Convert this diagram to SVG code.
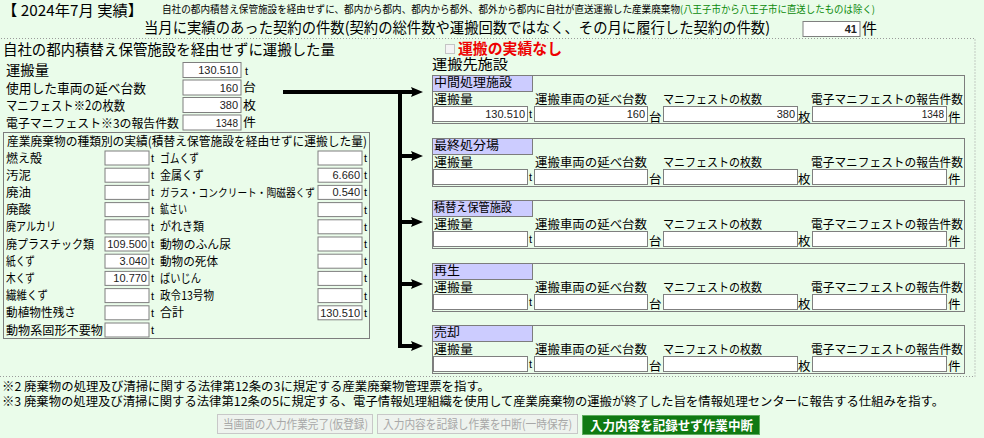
<svg xmlns="http://www.w3.org/2000/svg" width="984" height="438" viewBox="0 0 984 438">
<defs>
<style>
text{font-family:"Noto Sans CJK JP","Noto Sans",sans-serif;fill:#000}
.f15{font-size:15px}
.f14{font-size:14px}
.f13{font-size:13px}
.f12{font-size:12px}
.un{font-size:12.5px}
.sm{font-size:10px}
.in{fill:#fff;stroke:#7f7f7f;stroke-width:1}
.box{fill:none;stroke:#7d7d7d;stroke-width:1}
.tab{fill:#ccccff;stroke:#7d7d7d;stroke-width:1}
.v{font-family:"Liberation Sans",Arial,sans-serif;font-size:11px;fill:#222;text-anchor:end}
.vs{font-family:"Liberation Sans",Arial,sans-serif;font-size:10px;fill:#222;text-anchor:end}
.u{font-family:"Liberation Sans",Arial,sans-serif;font-size:11px}
.dot{fill:none;stroke:#9a9a9a;stroke-width:1;stroke-dasharray:1 2}
.ln{stroke:#000;stroke-width:4;fill:none}
.arr{stroke:#000;stroke-width:4;fill:none;marker-end:url(#ah)}
.btn{fill:#eef3ee;stroke:#c8c8c8}
.btnt{font-size:12px;fill:#a8a8a8}
</style>
<marker id="ah" viewBox="0 0 12 10" refX="2" refY="5" markerWidth="12" markerHeight="10" markerUnits="userSpaceOnUse" orient="auto">
<path d="M0,0 L12,5 L0,10 L2,5 z" fill="#000"/>
</marker>
</defs>
<rect x="0" y="0" width="984" height="438" fill="#eafcea"/>

<g id="header">
<text class="f15" x="2" y="16" textLength="141" lengthAdjust="spacingAndGlyphs">【 2024年7月 実績】</text>
<text class="sm" x="162" y="12.5" textLength="518" lengthAdjust="spacingAndGlyphs">自社の都内積替え保管施設を経由せずに、都内から都内、都内から都外、都外から都内に自社が直送運搬した産業廃棄物</text>
<text class="sm" x="680" y="12.5" textLength="195" lengthAdjust="spacingAndGlyphs" style="fill:#0a8a0a">(八王子市から八王子市に直送したものは除く)</text>
<text class="f15" x="144" y="32.5" textLength="626" lengthAdjust="spacingAndGlyphs">当月に実績のあった契約の件数(契約の総件数や運搬回数ではなく、その月に履行した契約の件数)</text>
<rect class="in" x="803" y="21.5" width="57" height="15"/>
<text class="v" x="857" y="33" style="font-weight:bold">41</text>
<text class="f15" x="862" y="34">件</text>
</g>

<rect class="dot" x="-2" y="38.5" width="977" height="338"/>

<g id="source">
<text class="f15" x="3" y="55" textLength="332" lengthAdjust="spacingAndGlyphs">自社の都内積替え保管施設を経由せずに運搬した量</text>
<text class="f14" x="6" y="75" textLength="43" lengthAdjust="spacingAndGlyphs">運搬量</text>
<rect class="in" x="183" y="62.5" width="58" height="15"/>
<text class="v" x="238" y="74">130.510</text>
<text class="u" x="245" y="75">t</text>
<text class="f13" x="6" y="92.5" textLength="140" lengthAdjust="spacingAndGlyphs">使用した車両の延べ台数</text>
<rect class="in" x="183" y="80" width="58" height="15"/>
<text class="v" x="238" y="91.5">160</text>
<text class="f12" x="243" y="92" textLength="13" lengthAdjust="spacingAndGlyphs">台</text>
<text class="f13" x="6" y="110" textLength="119" lengthAdjust="spacingAndGlyphs">マニフェスト※2の枚数</text>
<rect class="in" x="183" y="97.5" width="58" height="15"/>
<text class="v" x="238" y="109">380</text>
<text class="f12" x="243" y="109.5" textLength="13" lengthAdjust="spacingAndGlyphs">枚</text>
<text class="f12" x="6" y="127.5" textLength="173" lengthAdjust="spacingAndGlyphs">電子マニフェスト※3の報告件数</text>
<rect class="in" x="183" y="115" width="58" height="15"/>
<text class="vs" x="238" y="126.5">1348</text>
<text class="f12" x="243" y="127" textLength="13" lengthAdjust="spacingAndGlyphs">件</text>
</g>

<g id="breakdown">
<rect class="box" x="3.5" y="132.5" width="366" height="206"/>
<text x="7" y="145.5" textLength="360" lengthAdjust="spacingAndGlyphs" style="font-size:12.5px">産業廃棄物の種類別の実績(積替え保管施設を経由せずに運搬した量)</text>
<!-- left column -->
<text class="f12" x="6" y="162.5" textLength="36" lengthAdjust="spacingAndGlyphs">燃え殻</text>
<rect class="in" x="105" y="151" width="44" height="14"/><text class="u" x="151" y="162">t</text>
<text class="f12" x="6" y="179.7" textLength="25" lengthAdjust="spacingAndGlyphs">汚泥</text>
<rect class="in" x="105" y="168.2" width="44" height="14"/><text class="u" x="151" y="179.2">t</text>
<text class="f12" x="6" y="196.9" textLength="25" lengthAdjust="spacingAndGlyphs">廃油</text>
<rect class="in" x="105" y="185.4" width="44" height="14"/><text class="u" x="151" y="196.4">t</text>
<text class="f12" x="6" y="214.1" textLength="25" lengthAdjust="spacingAndGlyphs">廃酸</text>
<rect class="in" x="105" y="202.6" width="44" height="14"/><text class="u" x="151" y="213.6">t</text>
<text class="f12" x="6" y="231.3" textLength="50" lengthAdjust="spacingAndGlyphs">廃アルカリ</text>
<rect class="in" x="105" y="219.8" width="44" height="14"/><text class="u" x="151" y="230.8">t</text>
<text class="f12" x="6" y="248.5" textLength="88" lengthAdjust="spacingAndGlyphs">廃プラスチック類</text>
<rect class="in" x="105" y="237" width="44" height="14"/><text class="v" x="147" y="248">109.500</text><text class="u" x="151" y="248">t</text>
<text class="f12" x="6" y="265.7" textLength="29" lengthAdjust="spacingAndGlyphs">紙くず</text>
<rect class="in" x="105" y="254.2" width="44" height="14"/><text class="v" x="147" y="265.2">3.040</text><text class="u" x="151" y="265.2">t</text>
<text class="f12" x="6" y="282.9" textLength="29" lengthAdjust="spacingAndGlyphs">木くず</text>
<rect class="in" x="105" y="271.4" width="44" height="14"/><text class="v" x="147" y="282.4">10.770</text><text class="u" x="151" y="282.4">t</text>
<text class="f12" x="6" y="300.1" textLength="42" lengthAdjust="spacingAndGlyphs">繊維くず</text>
<rect class="in" x="105" y="288.6" width="44" height="14"/><text class="u" x="151" y="299.6">t</text>
<text class="f12" x="6" y="317.3" textLength="70" lengthAdjust="spacingAndGlyphs">動植物性残さ</text>
<rect class="in" x="105" y="305.8" width="44" height="14"/><text class="u" x="151" y="316.8">t</text>
<text class="f12" x="6" y="334.5" textLength="97" lengthAdjust="spacingAndGlyphs">動物系固形不要物</text>
<rect class="in" x="105" y="323" width="44" height="14"/><text class="u" x="151" y="334">t</text>
<!-- right column -->
<text class="f12" x="160" y="162.5" textLength="39" lengthAdjust="spacingAndGlyphs">ゴムくず</text>
<rect class="in" x="318" y="151" width="44" height="14"/><text class="u" x="364" y="162">t</text>
<text class="f12" x="160" y="179.7" textLength="44" lengthAdjust="spacingAndGlyphs">金属くず</text>
<rect class="in" x="318" y="168.2" width="44" height="14"/><text class="v" x="360" y="179.2">6.660</text><text class="u" x="364" y="179.2">t</text>
<text x="160" y="196.9" textLength="155" lengthAdjust="spacingAndGlyphs" style="font-size:10.8px">ガラス・コンクリート・陶磁器くず</text>
<rect class="in" x="318" y="185.4" width="44" height="14"/><text class="v" x="360" y="196.4">0.540</text><text class="u" x="364" y="196.4">t</text>
<text class="f12" x="160" y="214.1" textLength="27" lengthAdjust="spacingAndGlyphs">鉱さい</text>
<rect class="in" x="318" y="202.6" width="44" height="14"/><text class="u" x="364" y="213.6">t</text>
<text class="f12" x="160" y="231.3" textLength="44" lengthAdjust="spacingAndGlyphs">がれき類</text>
<rect class="in" x="318" y="219.8" width="44" height="14"/><text class="u" x="364" y="230.8">t</text>
<text class="f12" x="160" y="248.5" textLength="71" lengthAdjust="spacingAndGlyphs">動物のふん尿</text>
<rect class="in" x="318" y="237" width="44" height="14"/><text class="u" x="364" y="248">t</text>
<text class="f12" x="160" y="265.7" textLength="58" lengthAdjust="spacingAndGlyphs">動物の死体</text>
<rect class="in" x="318" y="254.2" width="44" height="14"/><text class="u" x="364" y="265.2">t</text>
<text class="f12" x="160" y="282.9" textLength="41" lengthAdjust="spacingAndGlyphs">ばいじん</text>
<rect class="in" x="318" y="271.4" width="44" height="14"/><text class="u" x="364" y="282.4">t</text>
<text class="f12" x="160" y="300.1" textLength="54" lengthAdjust="spacingAndGlyphs">政令13号物</text>
<rect class="in" x="318" y="288.6" width="44" height="14"/><text class="u" x="364" y="299.6">t</text>
<text class="f12" x="160" y="317.3">合計</text>
<rect class="in" x="318" y="305.8" width="44" height="14"/><text class="v" x="360" y="316.8">130.510</text><text class="u" x="364" y="316.8">t</text>
</g>

<g id="no-record">
<rect x="445.5" y="44.5" width="9" height="9" fill="#f4f4f4" stroke="#c4c4c4"/>
<text class="f15" x="458" y="54" textLength="104" lengthAdjust="spacingAndGlyphs" style="fill:#ee0000;font-weight:bold">運搬の実績なし</text>
<text class="f14" x="432" y="69" textLength="76" lengthAdjust="spacingAndGlyphs">運搬先施設</text>
</g>

<g id="connectors">
<line class="arr" x1="283" y1="92" x2="413" y2="92"/>
<line class="ln" x1="400" y1="90" x2="400" y2="348"/>
<line class="arr" x1="398" y1="156" x2="413" y2="156"/>
<line class="arr" x1="398" y1="222" x2="413" y2="222"/>
<line class="arr" x1="398" y1="284" x2="413" y2="284"/>
<line class="arr" x1="398" y1="346" x2="413" y2="346"/>
</g>

<g id="dest-intermediate" transform="translate(0,75)">
<rect class="box" x="432.5" y="0.5" width="532" height="48"/>
<rect class="tab" x="432.5" y="0.5" width="100" height="16"/>
<text class="f12" x="434" y="12" textLength="78" lengthAdjust="spacingAndGlyphs">中間処理施設</text>
<text class="f12" x="434" y="29" textLength="39" lengthAdjust="spacingAndGlyphs">運搬量</text>
<text class="f12" x="535" y="29" textLength="112" lengthAdjust="spacingAndGlyphs">運搬車両の延べ台数</text>
<text class="f12" x="663" y="29" textLength="99" lengthAdjust="spacingAndGlyphs">マニフェストの枚数</text>
<text class="f12" x="811" y="29" textLength="152" lengthAdjust="spacingAndGlyphs">電子マニフェストの報告件数</text>
<rect class="in" x="433.5" y="31.5" width="94" height="15"/><text class="u" x="529" y="43">t</text>
<rect class="in" x="534.5" y="31.5" width="113" height="15"/><text class="un" x="649" y="46.5">台</text>
<rect class="in" x="663.5" y="31.5" width="134" height="15"/><text class="un" x="798" y="46.5">枚</text>
<rect class="in" x="812.5" y="31.5" width="134" height="15"/><text class="un" x="948" y="46.5">件</text>
<text class="v" x="525" y="43">130.510</text>
<text class="v" x="645" y="43">160</text>
<text class="v" x="795" y="43">380</text>
<text class="vs" x="944" y="43">1348</text>
</g>

<g id="dest-landfill" transform="translate(0,138)">
<rect class="box" x="432.5" y="0.5" width="532" height="48"/>
<rect class="tab" x="432.5" y="0.5" width="100" height="16"/>
<text class="f12" x="434" y="11.5" textLength="65" lengthAdjust="spacingAndGlyphs">最終処分場</text>
<text class="f12" x="434" y="28.5" textLength="39" lengthAdjust="spacingAndGlyphs">運搬量</text>
<text class="f12" x="535" y="28.5" textLength="112" lengthAdjust="spacingAndGlyphs">運搬車両の延べ台数</text>
<text class="f12" x="663" y="28.5" textLength="99" lengthAdjust="spacingAndGlyphs">マニフェストの枚数</text>
<text class="f12" x="811" y="28.5" textLength="152" lengthAdjust="spacingAndGlyphs">電子マニフェストの報告件数</text>
<rect class="in" x="433.5" y="31.5" width="94" height="15"/><text class="u" x="529" y="43">t</text>
<rect class="in" x="534.5" y="31.5" width="113" height="15"/><text class="un" x="649" y="46.2">台</text>
<rect class="in" x="663.5" y="31.5" width="134" height="15"/><text class="un" x="798" y="46.2">枚</text>
<rect class="in" x="812.5" y="31.5" width="134" height="15"/><text class="un" x="948" y="46.2">件</text>
</g>

<g id="dest-transfer" transform="translate(0,200)">
<rect class="box" x="432.5" y="0.5" width="532" height="48"/>
<rect class="tab" x="432.5" y="0.5" width="100" height="16"/>
<text class="f12" x="434" y="11.5" textLength="78" lengthAdjust="spacingAndGlyphs">積替え保管施設</text>
<text class="f12" x="434" y="28.5" textLength="39" lengthAdjust="spacingAndGlyphs">運搬量</text>
<text class="f12" x="535" y="28.5" textLength="112" lengthAdjust="spacingAndGlyphs">運搬車両の延べ台数</text>
<text class="f12" x="663" y="28.5" textLength="99" lengthAdjust="spacingAndGlyphs">マニフェストの枚数</text>
<text class="f12" x="811" y="28.5" textLength="152" lengthAdjust="spacingAndGlyphs">電子マニフェストの報告件数</text>
<rect class="in" x="433.5" y="31.5" width="94" height="15"/><text class="u" x="529" y="43">t</text>
<rect class="in" x="534.5" y="31.5" width="113" height="15"/><text class="un" x="649" y="46.2">台</text>
<rect class="in" x="663.5" y="31.5" width="134" height="15"/><text class="un" x="798" y="46.2">枚</text>
<rect class="in" x="812.5" y="31.5" width="134" height="15"/><text class="un" x="948" y="46.2">件</text>
</g>

<g id="dest-recycle" transform="translate(0,263)">
<rect class="box" x="432.5" y="0.5" width="532" height="48"/>
<rect class="tab" x="432.5" y="0.5" width="100" height="16"/>
<text class="f12" x="434" y="11.5" textLength="26" lengthAdjust="spacingAndGlyphs">再生</text>
<text class="f12" x="434" y="28.5" textLength="39" lengthAdjust="spacingAndGlyphs">運搬量</text>
<text class="f12" x="535" y="28.5" textLength="112" lengthAdjust="spacingAndGlyphs">運搬車両の延べ台数</text>
<text class="f12" x="663" y="28.5" textLength="99" lengthAdjust="spacingAndGlyphs">マニフェストの枚数</text>
<text class="f12" x="811" y="28.5" textLength="152" lengthAdjust="spacingAndGlyphs">電子マニフェストの報告件数</text>
<rect class="in" x="433.5" y="31.5" width="94" height="15"/><text class="u" x="529" y="43">t</text>
<rect class="in" x="534.5" y="31.5" width="113" height="15"/><text class="un" x="649" y="46.2">台</text>
<rect class="in" x="663.5" y="31.5" width="134" height="15"/><text class="un" x="798" y="46.2">枚</text>
<rect class="in" x="812.5" y="31.5" width="134" height="15"/><text class="un" x="948" y="46.2">件</text>
</g>

<g id="dest-sale" transform="translate(0,325)">
<rect class="box" x="432.5" y="0.5" width="532" height="48"/>
<rect class="tab" x="432.5" y="0.5" width="100" height="16"/>
<text class="f12" x="434" y="11.5" textLength="26" lengthAdjust="spacingAndGlyphs">売却</text>
<text class="f12" x="434" y="28.5" textLength="39" lengthAdjust="spacingAndGlyphs">運搬量</text>
<text class="f12" x="535" y="28.5" textLength="112" lengthAdjust="spacingAndGlyphs">運搬車両の延べ台数</text>
<text class="f12" x="663" y="28.5" textLength="99" lengthAdjust="spacingAndGlyphs">マニフェストの枚数</text>
<text class="f12" x="811" y="28.5" textLength="152" lengthAdjust="spacingAndGlyphs">電子マニフェストの報告件数</text>
<rect class="in" x="433.5" y="31.5" width="94" height="15"/><text class="u" x="529" y="43">t</text>
<rect class="in" x="534.5" y="31.5" width="113" height="15"/><text class="un" x="649" y="46.2">台</text>
<rect class="in" x="663.5" y="31.5" width="134" height="15"/><text class="un" x="798" y="46.2">枚</text>
<rect class="in" x="812.5" y="31.5" width="134" height="15"/><text class="un" x="948" y="46.2">件</text>
</g>

<g id="footnotes">
<text class="f12" x="2" y="391" textLength="488" lengthAdjust="spacingAndGlyphs">※2 廃棄物の処理及び清掃に関する法律第12条の3に規定する産業廃棄物管理票を指す。</text>
<text class="f12" x="2" y="405.5" textLength="942" lengthAdjust="spacingAndGlyphs">※3 廃棄物の処理及び清掃に関する法律第12条の5に規定する、電子情報処理組織を使用して産業廃棄物の運搬が終了した旨を情報処理センターに報告する仕組みを指す。</text>
</g>

<g id="buttons">
<rect class="btn" x="217.5" y="414.5" width="155" height="19"/>
<text class="btnt" x="223" y="428.5" textLength="145" lengthAdjust="spacingAndGlyphs">当画面の入力作業完了(仮登録)</text>
<rect class="btn" x="377.5" y="414.5" width="200" height="19"/>
<text class="btnt" x="383" y="428.5" textLength="189" lengthAdjust="spacingAndGlyphs">入力内容を記録し作業を中断(一時保存)</text>
<rect x="582.5" y="415.5" width="177" height="19" fill="#0f7a12" stroke="#5fae5f"/>
<text x="590" y="430" textLength="163" lengthAdjust="spacingAndGlyphs" style="font-size:13px;font-weight:bold;fill:#fff">入力内容を記録せず作業中断</text>
</g>
</svg>
